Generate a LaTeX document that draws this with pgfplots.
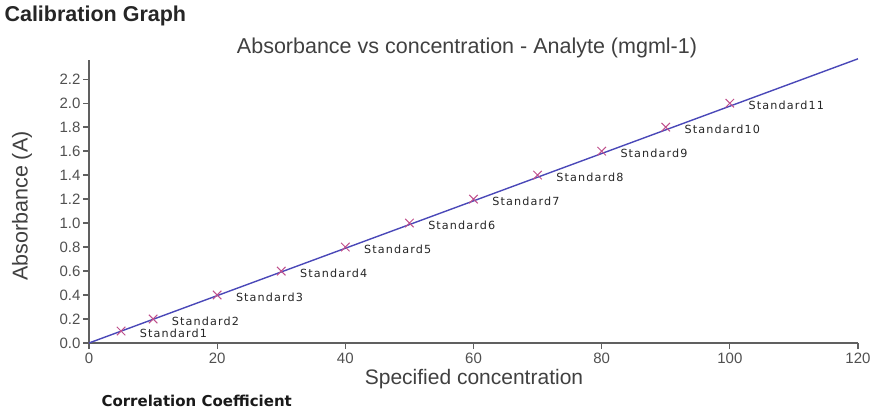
\documentclass[border=0pt]{standalone}
\usepackage{pgfplots}
\pgfplotsset{compat=1.18}
\usepackage{fontspec}
\setmainfont{Liberation Sans}
\newfontfamily\lblfont[LetterSpace=10]{DejaVu Sans}
\newfontfamily\boldfont{DejaVu Sans}

\definecolor{fitline}{HTML}{4A48B8}
\definecolor{stdmark}{HTML}{C0508C}
\definecolor{axisgrey}{HTML}{606060}
\definecolor{tickgrey}{HTML}{505050}

\pgfplotstableread{
conc  abs  name
5     0.1  Standard1
10    0.2  Standard2
20    0.4  Standard3
30    0.6  Standard4
40    0.8  Standard5
50    1.0  Standard6
60    1.2  Standard7
70    1.4  Standard8
80    1.6  Standard9
90    1.8  Standard10
100   2.0  Standard11
}\standards

\begin{document}
\begin{tikzpicture}[x=1pt,y=1pt]
\path[use as bounding box] (0,0) rectangle (879,418);

\node[anchor=west, font=\bfseries\fontsize{21.5}{24}\selectfont, text=black!85] at (1,402) {Calibration Graph};
\node[font=\fontsize{21.5}{24}\selectfont, text=black!75] at (467,370) {Absorbance vs concentration - Analyte (mgml-1)};
\node[font=\fontsize{21}{24}\selectfont, text=black!75] at (474,39) {Specified concentration};
\node[rotate=90, font=\fontsize{21.5}{24}\selectfont, text=black!75] at (22,212) {Absorbance (A)};
\node[anchor=west, font=\boldfont\bfseries\fontsize{15}{18}\selectfont, text=black!90] at (98,17) {Correlation Coefficient};

\begin{axis}[
  at={(89pt,75pt)}, anchor=south west,
  scale only axis, width=769pt, height=283pt,
  xmin=0, xmax=120, ymin=0, ymax=2.36,
  axis lines=left,
  axis line style={draw=axisgrey, line width=2pt, -},
  xtick={0,20,...,120},
  ytick={0,0.2,...,2.2},
  tick style={draw=axisgrey, line width=1.3pt},
  tick align=outside,
  major tick length=6pt,
  yticklabel style={/pgf/number format/fixed, /pgf/number format/fixed zerofill, /pgf/number format/precision=1, xshift=1pt},
  /pgf/number format/assume math mode=true,
  ticklabel style={font=\fontsize{15}{17}\selectfont, text=tickgrey},
  clip=false,
]
\addplot[color=fitline, line width=1.4pt] coordinates {(0,0) (120,2.37)};
\addplot[only marks, mark=x, mark size=6pt, mark options={color=stdmark, line width=1pt},
  nodes near coords, point meta=explicit symbolic,
  nodes near coords style={anchor=west, xshift=15pt, yshift=-2pt, font=\lblfont\fontsize{11.2}{13}\selectfont, text=black!85}]
  table[x=conc, y=abs, meta=name] {\standards};
\end{axis}
\end{tikzpicture}
\end{document}
